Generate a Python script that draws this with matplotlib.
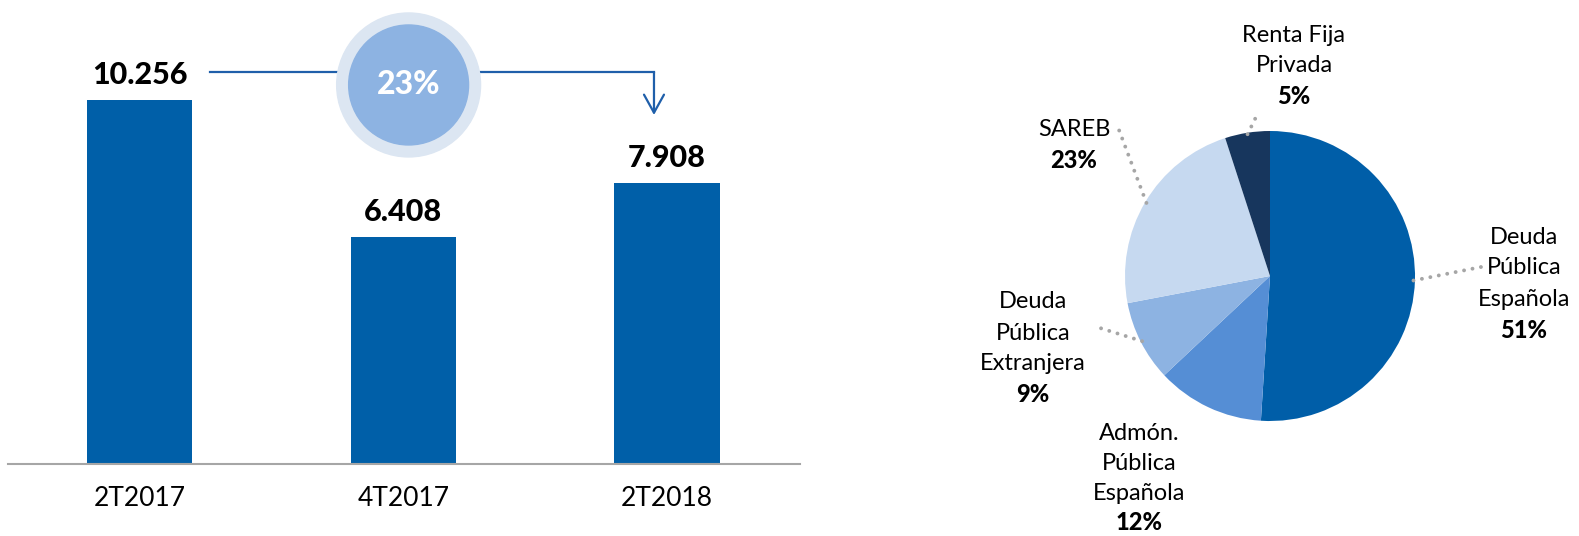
import numpy as np
import matplotlib.pyplot as plt
from matplotlib.patches import Ellipse

plt.rcParams['font.family'] = ['Lato', 'DejaVu Sans']

# datos
periodos = ['2T2017', '4T2017', '2T2018']
saldos = [10256, 6408, 7908]
etiquetas_saldo = ['10.256', '6.408', '7.908']
variacion = '23%'

carteras = ['Deuda\nPública\nEspañola', 'Admón.\nPública\nEspañola',
            'Deuda\nPública\nExtranjera', 'SAREB', 'Renta Fija\nPrivada']
pesos = [51, 12, 9, 23, 5]
colores_pie = ['#005EA8', '#558ED5', '#8DB3E2', '#C6D9F0', '#17365D']

W, H = 1579, 536
fig = plt.figure(figsize=(W / 100, H / 100), dpi=100)

# +------------------------------------------------------------------+#
# barras
ax = fig.add_axes([8 / W, 72 / H, 792 / W, 464 / H])
x = np.arange(len(periodos))
ax.bar(x, saldos, width=0.4, color='#005FA8', zorder=2)
ax.set_xlim(-0.5, 2.505)
ax.set_ylim(0, 13074)
for xi, v, t in zip(x, saldos, etiquetas_saldo):
    ax.annotate(t, (xi, v), xytext=(0, 18), textcoords='offset points',
                ha='center', va='center', fontsize=22, fontweight='black')
ax.set_xticks(x, periodos, fontsize=19)
ax.set_yticks([])
ax.tick_params(length=0, pad=16)
for s in ['top', 'right', 'left']:
    ax.spines[s].set_visible(False)
ax.spines['bottom'].set_color('#A6A6A6')
ax.spines['bottom'].set_linewidth(1.5)

# flecha de variacion
y_linea = 11045
ax.plot([0.266, 1.951], [y_linea, y_linea], color='#1F5FAA', lw=1.6, zorder=3)
ax.annotate('', xy=(1.951, 9834), xytext=(1.951, y_linea),
            arrowprops=dict(arrowstyle='->,head_length=0.65,head_width=0.36',
                            mutation_scale=20, color='#1F5FAA', lw=1.6,
                            shrinkA=0, shrinkB=0), zorder=3)
ax.add_patch(Ellipse((1.02, 10680), 0.546, 4057, color='#DCE6F2', zorder=4, clip_on=False))
ax.add_patch(Ellipse((1.02, 10680), 0.455, 3381, color='#8DB3E2', zorder=5, clip_on=False))
ax.text(1.02, 10680, variacion, ha='center', va='center', color='white',
        fontsize=23, fontweight='black', zorder=6)

# +------------------------------------------------------------------+#
# tarta
cx, cy, R = 1270, 276, 145


def px(xp, yp):
    return (xp - cx) / R, (cy - yp) / R


ax2 = fig.add_axes([960 / W, 0, 619 / W, 1])
wedges, _ = ax2.pie(pesos, colors=colores_pie, startangle=90, counterclock=False,
                    radius=1, wedgeprops=dict(linewidth=0))
ax2.set_xlim((960 - cx) / R, (W - cx) / R)
ax2.set_ylim(-(H - cy) / R, cy / R)

# posicion de etiquetas (x centro, y primera linea, paso) y fin de la guia
pos_etiquetas = [(1524, 237, 31), (1139, 434, 29.5), (1033, 302, 31), (1074, 129, 32), (1294, 35, 31)]
fin_guia = [(1481, 267), None, (1100, 328), (1119, 130), (1257, 115)]

for w, nombre, p, (lx, ly, paso), fg in zip(wedges, carteras, pesos, pos_etiquetas, fin_guia):
    lineas = nombre.split('\n') + [f'{p}%']
    for i, ln in enumerate(lineas):
        bold = i == len(lineas) - 1
        ax2.text(*px(lx, ly + i * paso), ln, ha='center', va='center', fontsize=17,
                 fontweight='black' if bold else 'normal')
    if fg is not None:
        ang = np.deg2rad((w.theta1 + w.theta2) / 2)
        x0, y0 = 0.99 * np.cos(ang), 0.99 * np.sin(ang)
        x1, y1 = px(*fg)
        ax2.plot([x0, x1], [y0, y1], color='#A6A6A6', lw=2.8,
                 linestyle=(0, (0.01, 2.2)), dash_capstyle='round')

fig.savefig('out.png', dpi=100)
